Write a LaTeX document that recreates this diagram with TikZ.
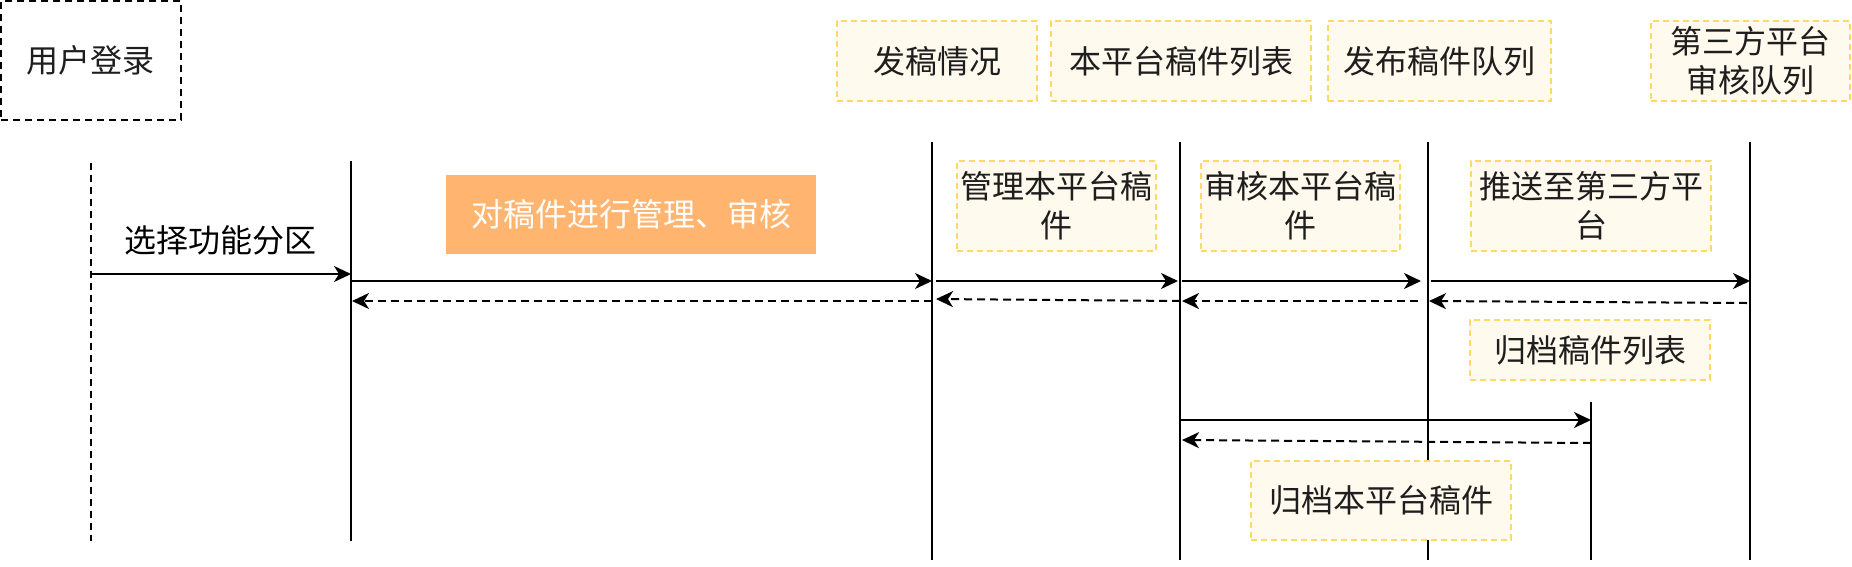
\documentclass[tikz,border=0pt]{standalone}
\usepackage{fontspec}
\setmainfont{Noto Sans CJK SC}
\usetikzlibrary{arrows.meta}
\definecolor{noteline}{HTML}{FFD966}
\definecolor{notefill}{HTML}{FFF9EE}
\definecolor{orangefill}{HTML}{FFB570}
\definecolor{txt}{HTML}{1E1E1E}
\begin{document}
\begin{tikzpicture}[x=1pt,y=-1pt,
  every node/.style={font=\fontsize{32}{39}\selectfont, text=txt},
  note/.style={draw=noteline, fill=notefill, dash pattern=on 6pt off 4pt, line width=1.5pt, align=center, inner sep=0pt},
  loginbox/.style={draw=black, dash pattern=on 7pt off 5pt, line width=2pt, align=center, inner sep=0pt},
  hilite/.style={fill=orangefill, text=white, inner sep=0pt, align=center},
  life/.style={line width=2pt},
  dlife/.style={line width=2pt, dash pattern=on 7pt off 5pt},
  msg/.style={line width=2pt, -{Stealth[length=17pt,width=16pt,inset=5pt]}},
  ret/.style={msg, dash pattern=on 8pt off 5pt},
]
\useasboundingbox (0,0) rectangle (1852,566);

% lifelines
\coordinate (L1t) at (91,163);   \coordinate (L1b) at (91,541);
\coordinate (L2t) at (351,161);  \coordinate (L2b) at (351,541);
\coordinate (L3t) at (932,142);  \coordinate (L3b) at (932,560);
\coordinate (L4t) at (1180,142); \coordinate (L4b) at (1180,560);
\coordinate (L5t) at (1428,142); \coordinate (L5b) at (1428,560);
\coordinate (L6t) at (1750,142); \coordinate (L6b) at (1750,560);
\coordinate (L7t) at (1591,402); \coordinate (L7b) at (1591,560);
\draw[dlife] (L1t) -- (L1b);
\draw[life] (L2t) -- (L2b);
\draw[life] (L3t) -- (L3b);
\draw[life] (L4t) -- (L4b);
\draw[life] (L5t) -- (L5b);
\draw[life] (L6t) -- (L6b);
\draw[life] (L7t) -- (L7b);

% header boxes
\node[loginbox, minimum width=180pt, minimum height=119pt] (login) at (91,60.5) {用户登录};
\node[note, minimum width=200pt, minimum height=80pt] (fg) at (937,61) {发稿情况};
\node[note, minimum width=260pt, minimum height=80pt] (bl) at (1181,61) {本平台稿件列表};
\node[note, minimum width=223pt, minimum height=80pt] (fb) at (1439.5,61) {发布稿件队列};
\node[note, minimum width=199pt, minimum height=80pt] (dsf) at (1750.5,61) {第三方平台\\审核队列};

% action notes
\node[hilite, minimum width=370pt, minimum height=79pt] (hl) at (631,214.5) {对稿件进行管理、审核};
\node[note, minimum width=199pt, minimum height=90pt] (gl) at (1056.5,206) {管理本平台稿\\件};
\node[note, minimum width=199pt, minimum height=90pt] (sh) at (1300.5,206) {审核本平台稿\\件};
\node[note, minimum width=240pt, minimum height=90pt] (ts) at (1591,206) {推送至第三方平\\台};
\node[note, minimum width=240pt, minimum height=60pt] (gd) at (1590,350) {归档稿件列表};
\node[note, minimum width=260pt, minimum height=79pt] (gb) at (1381,500.5) {归档本平台稿件};
\node[inner sep=0pt, text=black] (sel) at (220,240) {选择功能分区};

% message end points
\coordinate (m0a) at (91,274);   \coordinate (m0b) at (351,274);
\coordinate (m1a) at (351,281);  \coordinate (m1b) at (932,281);
\coordinate (r1a) at (932,301);  \coordinate (r1b) at (352,301);
\coordinate (m2a) at (936,281);  \coordinate (m2b) at (1178,281);
\coordinate (r2a) at (1180,301); \coordinate (r2b) at (936,299);
\coordinate (m3a) at (1182,281); \coordinate (m3b) at (1421,281);
\coordinate (r3a) at (1418,301); \coordinate (r3b) at (1182,301);
\coordinate (m4a) at (1431,281); \coordinate (m4b) at (1750,281);
\coordinate (r4a) at (1747,303); \coordinate (r4b) at (1429,301);
\coordinate (m5a) at (1181,420); \coordinate (m5b) at (1591,420);
\coordinate (r5a) at (1591,443); \coordinate (r5b) at (1182,440);

\draw[msg] (m0a) -- (m0b);
\draw[msg] (m1a) -- (m1b);
\draw[ret] (r1a) -- (r1b);
\draw[msg] (m2a) -- (m2b);
\draw[ret] (r2a) -- (r2b);
\draw[msg] (m3a) -- (m3b);
\draw[ret] (r3a) -- (r3b);
\draw[msg] (m4a) -- (m4b);
\draw[ret] (r4a) -- (r4b);
\draw[msg] (m5a) -- (m5b);
\draw[ret] (r5a) -- (r5b);
\end{tikzpicture}
\end{document}
